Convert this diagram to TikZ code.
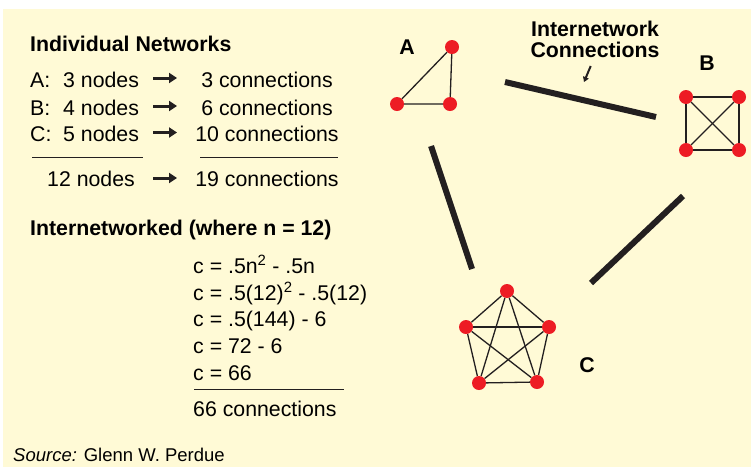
\documentclass[tikz,border=0pt]{standalone}
\usepackage{fontspec}
\setmainfont{Liberation Sans}
\usetikzlibrary{arrows.meta}
\definecolor{panelyellow}{RGB}{255,250,214}
\definecolor{nodered}{RGB}{237,28,36}
\definecolor{barblack}{RGB}{35,31,32}
\tikzset{
  txt/.style={anchor=base west, inner sep=0pt, font=\fontsize{21.3}{25}\selectfont},
  txtc/.style={anchor=base, inner sep=0pt, font=\fontsize{21.3}{25}\selectfont},
  hdr/.style={anchor=base west, inner sep=0pt, font=\fontsize{21.3}{25}\selectfont\bfseries},
  netlbl/.style={inner sep=0pt, font=\fontsize{21.3}{25}\selectfont\bfseries},
  dot/.style={circle, fill=nodered, inner sep=0pt, minimum size=14pt},
  link/.style={draw=barblack, line width=1.3pt},
  bar/.style={draw=barblack, line width=6pt},
  rowarr/.style={draw=barblack, line width=3pt, -{Triangle[length=8pt, width=10pt]}},
  rule/.style={draw=barblack, line width=1pt},
}
\begin{document}
\begin{tikzpicture}[x=1pt, y=-1pt]
  \useasboundingbox (0,0) rectangle (751,467);
  \fill[panelyellow] (3,9) rectangle (751,467);

  \node[hdr] (indiv) at (30,51.7) {Individual Networks};
  \node[txt] (labA) at (30,87.3)  {A:};
  \node[txt] (ndA)  at (63,87.3)  {3 nodes};
  \node[txtc] (cnA) at (267,87.3) {3 connections};
  \node[txt] (labB) at (30,115)   {B:};
  \node[txt] (ndB)  at (63,115)   {4 nodes};
  \node[txtc] (cnB) at (267,115)  {6 connections};
  \node[txt] (labC) at (30,141.7) {C:};
  \node[txt] (ndC)  at (63,141.7) {5 nodes};
  \node[txtc] (cnC) at (267,141.7) {10 connections};
  \node[txt] (ndT)  at (47,186.7) {12 nodes};
  \node[txtc] (cnT) at (267,186.7) {19 connections};

  \foreach \n/\y in {A/78, B/106, C/132.5, T/178} {
    \coordinate (arL\n) at (153,\y);
    \coordinate (arR\n) at (177,\y);
    \draw[rowarr] (arL\n) -- (arR\n);
  }
  \draw[rule] (32,157) -- (143,157);
  \draw[rule] (200,157) -- (338,157);

  \node[hdr] (inter) at (30,235) {Internetworked (where n = 12)};
  \node[txt] (eq1) at (193,273)   {c = .5n\textsuperscript{2} - .5n};
  \node[txt] (eq2) at (193,300)   {c = .5(12)\textsuperscript{2} - .5(12)};
  \node[txt] (eq3) at (193,326.5) {c = .5(144) - 6};
  \node[txt] (eq4) at (193,353)   {c = 72 - 6};
  \node[txt] (eq5) at (193,380)   {c = 66};
  \draw[rule] (194,389) -- (344,389);
  \node[txt] (total) at (193,416.7) {66 connections};
  \node[anchor=base west, inner sep=0pt, font=\fontsize{18.5}{22}\selectfont]
    (src) at (13,461.6) {\textit{Source:} Glenn W. Perdue};

  \node[netlbl] (labelA) at (407,47)  {A};
  \node[netlbl] (labelB) at (707,63)  {B};
  \node[netlbl] (labelC) at (587,365) {C};
  \node[netlbl, align=center, font=\fontsize{21.3}{21}\selectfont\bfseries]
    (ic) at (595,39.5) {Internetwork\\Connections};
  \coordinate (icTop) at (590.7,66);
  \coordinate (icTip) at (584,82);
  \draw[draw=barblack, line width=2pt, -{Triangle[length=5pt, width=6pt]}] (icTop) -- (icTip);

  \node[dot] (a1) at (452,47)  {};
  \node[dot] (a2) at (397,104) {};
  \node[dot] (a3) at (450,104) {};
  \draw[link] (a1) -- (a2) -- (a3) -- (a1);

  \node[dot] (b1) at (686,97)  {};
  \node[dot] (b2) at (739,97)  {};
  \node[dot] (b3) at (686,150) {};
  \node[dot] (b4) at (739,150) {};
  \draw[link] (b1) -- (b2) -- (b4) -- (b3) -- (b1);
  \draw[link] (b1) -- (b4);
  \draw[link] (b2) -- (b3);

  \node[dot] (c1) at (507,291) {};
  \node[dot] (c2) at (466,327) {};
  \node[dot] (c3) at (549,327) {};
  \node[dot] (c4) at (479,383) {};
  \node[dot] (c5) at (537,382) {};
  \foreach \i/\j in {1/2, 1/3, 1/4, 1/5, 2/3, 2/4, 2/5, 3/4, 3/5, 4/5}
    \draw[link] (c\i) -- (c\j);

  \coordinate (abS) at (505,82);
  \coordinate (abE) at (656,117);
  \coordinate (acS) at (431,146);
  \coordinate (acE) at (472,269);
  \coordinate (bcS) at (683,196);
  \coordinate (bcE) at (591,283);
  \draw[bar] (abS) -- (abE);
  \draw[bar] (acS) -- (acE);
  \draw[bar] (bcS) -- (bcE);
\end{tikzpicture}
\end{document}
